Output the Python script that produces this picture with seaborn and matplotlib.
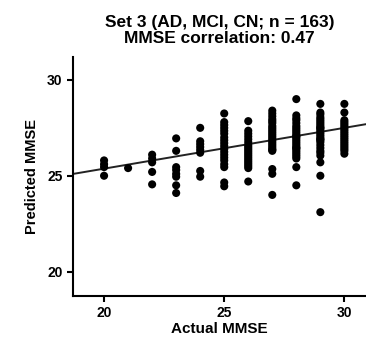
import matplotlib
matplotlib.use("Agg")
import matplotlib.pyplot as plt
import seaborn as sns
import pandas as pd

# ---- data ----
col20 = [25.8, 25.6, 25.45, 25.0]
col21 = [25.4]
col22 = [26.1, 25.9, 25.7, 25.2, 24.55]
col23 = [26.95, 26.3, 25.45, 25.3, 25.1, 24.95, 24.5, 24.1]
col24 = [27.5, 26.8, 26.65, 26.5, 26.35, 26.2, 25.25, 24.95]
col25 = [28.25, 27.8, 27.65, 27.5, 27.35, 27.2, 27.0, 26.85, 26.7, 26.55,
         26.4, 26.25, 26.1, 25.95, 25.8, 25.6, 25.45, 24.65, 24.45]
col26 = [27.85, 27.35, 27.2, 27.05, 26.9, 26.75, 26.6, 26.5, 26.4, 26.3,
         26.2, 26.1, 26.0, 25.9, 25.8, 25.7, 25.6, 25.5, 25.4, 24.7]
col27 = [28.4, 28.25, 28.1, 27.95, 27.85, 27.75, 27.6, 27.5, 27.4, 27.3,
         27.2, 27.1, 27.0, 26.9, 26.8, 26.7, 26.6, 26.5, 26.4, 26.3, 26.35,
         25.35, 25.1, 24.0]
col28 = [29.0, 28.15, 28.0, 27.9, 27.75, 27.6, 27.5, 27.4, 27.3, 27.2,
         27.1, 27.0, 26.9, 26.8, 26.7, 26.6, 26.5, 26.4, 26.3, 26.2, 26.1,
         26.0, 25.9, 27.05, 26.45, 25.45, 24.5]
col29 = [28.75, 28.3, 28.2, 28.05, 27.95, 27.85, 27.75, 27.65, 27.55, 27.45,
         27.35, 27.25, 27.15, 27.05, 26.95, 26.85, 26.75, 26.6, 26.45, 26.3,
         26.2, 26.05, 27.5, 26.9, 25.7, 25.0, 23.1]
col30 = [28.75, 28.3, 27.9, 27.8, 27.7, 27.6, 27.5, 27.4, 27.3, 27.2,
         27.1, 27.0, 26.9, 26.8, 26.7, 26.6, 26.5, 26.4, 26.3, 26.15]

actual_scores = [20, 21, 22, 23, 24, 25, 26, 27, 28, 29, 30]
predicted_cols = [col20, col21, col22, col23, col24, col25, col26, col27,
                  col28, col29, col30]

fit_intercept = 21.11
fit_slope = 0.213

x_ticks = [20, 25, 30]
y_ticks = [20, 25, 30]
title_text = "Set 3 (AD, MCI, CN; n = 163)\nMMSE correlation: 0.47"
x_label = "Actual MMSE"
y_label = "Predicted MMSE"

rows = []
for a, vals in zip(actual_scores, predicted_cols):
    for v in vals:
        rows.append({"actual": a, "predicted": v})
df = pd.DataFrame(rows)

sns.set_style("ticks")
plt.rcParams["font.family"] = ["Liberation Sans", "DejaVu Sans"]
plt.rcParams["font.weight"] = "bold"
plt.rcParams["text.color"] = "black"
plt.rcParams["axes.labelcolor"] = "black"
plt.rcParams["xtick.color"] = "black"
plt.rcParams["ytick.color"] = "black"

fig = plt.figure(figsize=(3.66, 3.37), dpi=100)
ax = fig.add_axes([0.199, 0.122, 0.801, 0.709])

sns.scatterplot(data=df, x="actual", y="predicted", ax=ax, color="black",
                s=34, edgecolor="none", linewidth=0, zorder=3)
ax.axline((0, fit_intercept), slope=fit_slope, color="#222222", lw=1.4, zorder=2)

ax.set_xlim(18.7, 30.9)
ax.set_ylim(18.73, 31.2)
ax.set_xticks(x_ticks)
ax.set_yticks(y_ticks)
ax.tick_params(axis="both", labelsize=10, width=1.5, length=4, direction="out")
for lab in ax.get_xticklabels() + ax.get_yticklabels():
    lab.set_fontweight("bold")
ax.set_xlabel(x_label, fontsize=11, fontweight="bold", labelpad=1)
ax.set_ylabel(y_label, fontsize=10.5, fontweight="bold", labelpad=6)
ax.set_title(title_text, fontsize=12.5, fontweight="bold", pad=10, linespacing=1.05)

for s in ["top", "right"]:
    ax.spines[s].set_visible(False)
for s in ["left", "bottom"]:
    ax.spines[s].set_linewidth(1.5)
    ax.spines[s].set_color("black")

fig.savefig("out.png", dpi=100)
